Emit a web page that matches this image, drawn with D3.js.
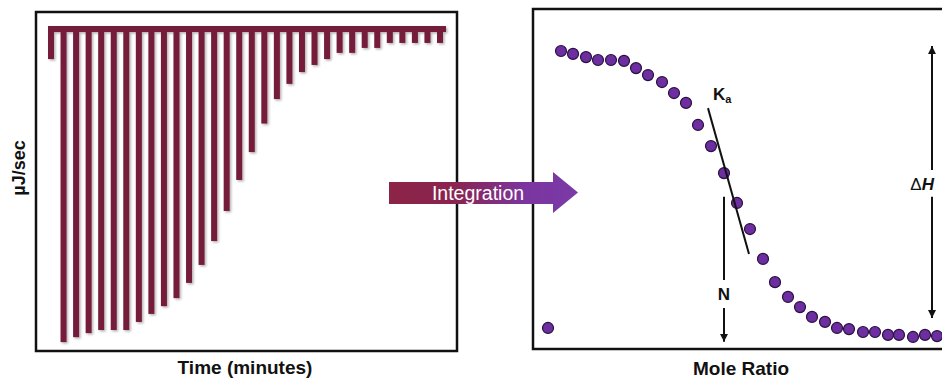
<!DOCTYPE html>
<html>
<head>
<meta charset="utf-8">
<script src="https://cdn.jsdelivr.net/npm/d3@7"></script>
<style>
  html, body { margin: 0; padding: 0; background: #fff; }
  svg { display: block; font-family: "Liberation Sans", Arial, sans-serif; }
</style>
</head>
<body>
<svg id="chart" width="942" height="379"></svg>
<script>
// Raw thermogram: heat-rate peak for each injection (µJ/sec, exothermic = negative)
const injections = d3.range(1, 33);
const heatRate = [
  -0.97, -10.10, -9.94, -9.81, -9.71, -9.71, -9.71, -9.45,
  -9.19, -8.94, -8.68, -8.19, -7.61, -6.84, -5.87, -4.87,
  -3.97, -3.05, -2.26, -1.77, -1.39, -1.16, -0.97, -0.77,
  -0.77, -0.61, -0.61, -0.45, -0.45, -0.45, -0.45, -0.45
];

// Integrated binding isotherm: heat per injection vs. mole ratio
const moleRatio = [
  0.12, 0.25, 0.37, 0.50, 0.62, 0.75, 0.88, 1.00,
  1.12, 1.26, 1.38, 1.50, 1.62, 1.75, 1.88, 2.01,
  2.14, 2.27, 2.39, 2.52, 2.64, 2.76, 2.89, 3.01,
  3.13, 3.27, 3.39, 3.52, 3.63, 3.77, 3.89, 4.01
];
const heatPerInjection = [
  -0.45, -10.00, -9.90, -9.79, -9.69, -9.69, -9.66, -9.41,
  -9.17, -8.93, -8.55, -8.21, -7.45, -6.72, -5.79, -4.76,
  -3.86, -2.83, -2.03, -1.52, -1.17, -0.83, -0.66, -0.45,
  -0.41, -0.31, -0.31, -0.21, -0.21, -0.14, -0.21, -0.17
];

// Fit annotations (data units of the isotherm)
const kaTangent = [[1.72, -8.03], [2.13, -3.00]];
const stoichN = 1.88;
const enthalpyX = 3.96;

const svg = d3.select("#chart");
const defs = svg.append("defs");

const shadow = defs.append("filter").attr("id", "spikeShadow")
  .attr("x", "-50%").attr("y", "-5%").attr("width", "200%").attr("height", "110%");
shadow.append("feDropShadow").attr("dx", 1.5).attr("dy", 1.5)
  .attr("stdDeviation", 1).attr("flood-color", "#000").attr("flood-opacity", 0.3);

const grad = defs.append("linearGradient").attr("id", "arrowGrad")
  .attr("x1", "0%").attr("x2", "100%");
grad.append("stop").attr("offset", "0%").attr("stop-color", "#8c2446");
grad.append("stop").attr("offset", "35%").attr("stop-color", "#8a2450");
grad.append("stop").attr("offset", "72%").attr("stop-color", "#7b35a0");
grad.append("stop").attr("offset", "100%").attr("stop-color", "#7a3aa6");

const arrowHead = defs.append("marker").attr("id", "arrowHead")
  .attr("viewBox", "0 0 10 10").attr("refX", 10).attr("refY", 5)
  .attr("markerWidth", 8).attr("markerHeight", 9)
  .attr("markerUnits", "userSpaceOnUse").attr("orient", "auto");
arrowHead.append("path").attr("d", "M0,0L10,5L0,10Z").attr("fill", "#111");

// ---------------- Left panel: thermogram ----------------
const spikeColor = "#751b3a";
const xL = d3.scalePoint().domain(injections).range([51, 440]);
const yL = d3.scaleLinear().domain([0, -10]).range([29, 339]);
const baseTop = 26;

const left = svg.append("g");
left.append("rect").attr("x", 36).attr("y", 12).attr("width", 421).attr("height", 339)
  .attr("fill", "none").attr("stroke", "#111").attr("stroke-width", 2.5);

const spikes = left.append("g").attr("filter", "url(#spikeShadow)");
spikes.append("rect")
  .attr("x", xL(injections[0]) - 3)
  .attr("y", baseTop)
  .attr("width", xL(injections[injections.length - 1]) - xL(injections[0]) + 9)
  .attr("height", 6)
  .attr("fill", spikeColor);
spikes.selectAll("rect.spike")
  .data(injections)
  .join("rect")
  .attr("class", "spike")
  .attr("x", d => xL(d) - 3)
  .attr("y", baseTop)
  .attr("width", 6)
  .attr("height", (d, i) => yL(heatRate[i]) - baseTop)
  .attr("fill", spikeColor);

left.append("text")
  .attr("transform", "translate(25,168) rotate(-90)")
  .attr("text-anchor", "middle")
  .attr("font-size", 18).attr("font-weight", "bold").attr("fill", "#111")
  .text("µJ/sec");

left.append("text")
  .attr("x", 245).attr("y", 374)
  .attr("text-anchor", "middle")
  .attr("font-size", 19).attr("font-weight", "bold").attr("fill", "#111")
  .text("Time (minutes)");

// ---------------- Right panel: binding isotherm ----------------
const xR = d3.scaleLinear().domain([0, 4]).range([536, 936]);
const yR = d3.scaleLinear().domain([0, -10]).range([341, 51]);

const right = svg.append("g");
right.append("rect").attr("x", 533).attr("y", 9).attr("width", 420).attr("height", 340)
  .attr("fill", "none").attr("stroke", "#111").attr("stroke-width", 2.5);

right.selectAll("circle.pt")
  .data(moleRatio)
  .join("circle")
  .attr("class", "pt")
  .attr("cx", d => xR(d))
  .attr("cy", (d, i) => yR(heatPerInjection[i]))
  .attr("r", 5.5)
  .attr("fill", "#6c2ea0")
  .attr("stroke", "#2b1140")
  .attr("stroke-width", 1.2);

// Ka: slope at the inflection
right.append("line")
  .attr("x1", xR(kaTangent[0][0])).attr("y1", yR(kaTangent[0][1]))
  .attr("x2", xR(kaTangent[1][0])).attr("y2", yR(kaTangent[1][1]))
  .attr("stroke", "#111").attr("stroke-width", 2);
const kaText = right.append("text")
  .attr("x", xR(kaTangent[0][0]) + 5).attr("y", 100)
  .attr("font-size", 17).attr("font-weight", "bold").attr("fill", "#111");
kaText.append("tspan").text("K");
kaText.append("tspan").attr("font-size", 11).attr("dy", 3).text("a");

// N: stoichiometry at the inflection
right.append("line")
  .attr("x1", xR(stoichN)).attr("x2", xR(stoichN))
  .attr("y1", yR(-4.97)).attr("y2", yR(-2.10))
  .attr("stroke", "#111").attr("stroke-width", 2);
right.append("text")
  .attr("x", xR(stoichN)).attr("y", 300)
  .attr("text-anchor", "middle")
  .attr("font-size", 17).attr("font-weight", "bold").attr("fill", "#111")
  .text("N");
right.append("line")
  .attr("x1", xR(stoichN)).attr("x2", xR(stoichN))
  .attr("y1", yR(-1.14)).attr("y2", yR(0.03))
  .attr("stroke", "#111").attr("stroke-width", 2)
  .attr("marker-end", "url(#arrowHead)");

// ΔH: full height of the isotherm
right.append("line")
  .attr("x1", xR(enthalpyX)).attr("x2", xR(enthalpyX))
  .attr("y1", yR(-5.90)).attr("y2", yR(-10.17))
  .attr("stroke", "#111").attr("stroke-width", 2)
  .attr("marker-end", "url(#arrowHead)");
right.append("line")
  .attr("x1", xR(enthalpyX)).attr("x2", xR(enthalpyX))
  .attr("y1", yR(-4.97)).attr("y2", yR(-0.79))
  .attr("stroke", "#111").attr("stroke-width", 2)
  .attr("marker-end", "url(#arrowHead)");
const dhText = right.append("text")
  .attr("x", xR(enthalpyX) + 2).attr("y", 190)
  .attr("text-anchor", "end")
  .attr("font-size", 17).attr("fill", "#111");
dhText.append("tspan").text("Δ");
dhText.append("tspan").attr("font-weight", "bold").attr("font-style", "italic").text("H");

right.append("text")
  .attr("x", 741).attr("y", 375)
  .attr("text-anchor", "middle")
  .attr("font-size", 19).attr("font-weight", "bold").attr("fill", "#111")
  .text("Mole Ratio");

// ---------------- Integration arrow (drawn over both frames) ----------------
const arrow = svg.append("g");
arrow.append("path")
  .attr("d", "M389,182L553,182L553,172L578,192.5L553,213L553,204L389,204Z")
  .attr("fill", "url(#arrowGrad)");
arrow.append("text")
  .attr("x", 478).attr("y", 200)
  .attr("text-anchor", "middle")
  .attr("font-size", 19.5).attr("fill", "#fff")
  .text("Integration");
</script>
</body>
</html>
